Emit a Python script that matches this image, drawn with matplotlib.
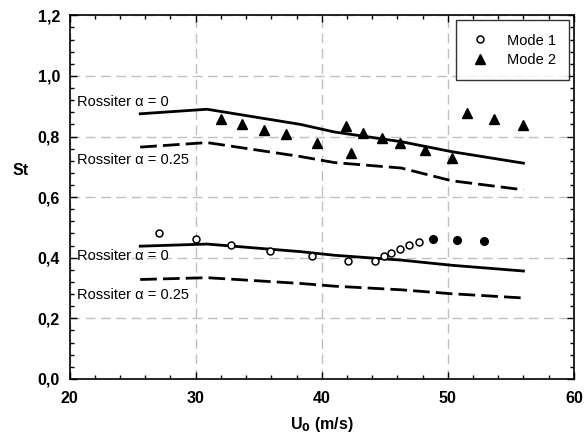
import matplotlib.pyplot as plt
from matplotlib.ticker import MultipleLocator, FuncFormatter

plt.rcParams['font.family'] = ['Liberation Sans', 'DejaVu Sans']

# ========== ДАННЫЕ ==========
# Mode 1 (open circles)
u_mode1 = [27.1, 30.0, 32.8, 35.9, 39.2, 42.1, 44.2, 44.9, 45.5, 46.2, 46.9, 47.7]
st_mode1 = [0.483, 0.462, 0.443, 0.422, 0.404, 0.389, 0.388, 0.404, 0.416, 0.429, 0.442, 0.453]

# Mode 1, filled circles
u_mode1_f = [48.8, 50.7, 52.9]
st_mode1_f = [0.461, 0.460, 0.455]

# Mode 2 (triangles)
u_mode2 = [32.0, 33.7, 35.4, 37.2, 39.6, 41.9, 42.3, 43.3, 44.8, 46.2, 48.2, 50.3, 51.5, 53.7, 56.0]
st_mode2 = [0.858, 0.841, 0.822, 0.808, 0.780, 0.835, 0.747, 0.813, 0.794, 0.780, 0.756, 0.728, 0.879, 0.857, 0.839]

# Rossiter curves
u_ross = [25.6, 30.9, 38.3, 41.0, 46.3, 50.3, 56.0]
st_m2_a0 = [0.875, 0.890, 0.840, 0.815, 0.783, 0.750, 0.712]
st_m2_a025 = [0.765, 0.780, 0.734, 0.714, 0.696, 0.654, 0.624]
st_m1_a0 = [0.438, 0.445, 0.420, 0.408, 0.392, 0.375, 0.356]
st_m1_a025 = [0.328, 0.334, 0.315, 0.306, 0.294, 0.281, 0.267]

# ========== ГРАФИК ==========
fig = plt.figure(figsize=(5.85, 4.38), dpi=100)
ax = fig.add_axes([0.119, 0.135, 0.862, 0.830])

ax.plot(u_ross, st_m2_a0, color='black', lw=2)
ax.plot(u_ross, st_m2_a025, color='black', lw=2, dashes=(6, 2.2))
ax.plot(u_ross, st_m1_a0, color='black', lw=2)
ax.plot(u_ross, st_m1_a025, color='black', lw=2, dashes=(6, 2.2))

ax.plot(u_mode1, st_mode1, 'o', ms=5, mfc='white', mec='black', mew=1.1, label='Mode 1')
ax.plot(u_mode2, st_mode2, '^', ms=6.5, color='black', label='Mode 2')
ax.plot(u_mode1_f, st_mode1_f, 'o', ms=5.5, color='black')

txt = dict(fontsize=10.5, ha='left', va='center')
ax.text(20.6, 0.915, 'Rossiter \u03b1 = 0', **txt)
ax.text(20.6, 0.723, 'Rossiter \u03b1 = 0.25', **txt)
ax.text(20.6, 0.404, 'Rossiter \u03b1 = 0', **txt)
ax.text(20.6, 0.277, 'Rossiter \u03b1 = 0.25', **txt)

ax.set_xlim(20, 60)
ax.set_ylim(0, 1.2)
ax.xaxis.set_major_locator(MultipleLocator(10))
ax.xaxis.set_minor_locator(MultipleLocator(2))
ax.yaxis.set_major_locator(MultipleLocator(0.2))
ax.yaxis.set_minor_locator(MultipleLocator(0.04))
ax.yaxis.set_major_formatter(FuncFormatter(lambda v, p: f'{v:.1f}'.replace('.', ',')))

ax.tick_params(which='both', direction='in', top=True, right=True, width=1)
ax.tick_params(which='major', length=5, labelsize=11.5)
ax.tick_params(axis='x', which='major', pad=9)
ax.tick_params(axis='y', which='major', pad=7)
ax.tick_params(which='minor', length=3)
for lab in ax.get_xticklabels() + ax.get_yticklabels():
    lab.set_fontweight('bold')
for s in ax.spines.values():
    s.set_linewidth(1.2)

ax.grid(True, which='major', color='#c0c0c0', linestyle=(0, (7, 4)), lw=1)

ax.set_xlabel(r'U$_\mathbf{0}$ (m/s)', fontsize=11.5, fontweight='bold', labelpad=6)
ax.set_ylabel('St', fontsize=11.5, fontweight='bold', rotation=0, va='center', ha='center')
ax.yaxis.set_label_coords(-0.097, 0.572)

leg = ax.legend(loc='upper right', fontsize=10.5, frameon=True, fancybox=False,
                edgecolor='black', borderpad=0.9, handletextpad=1.0, handlelength=1.6,
                labelspacing=0.35, borderaxespad=0.35)
leg.get_frame().set_linewidth(1)

fig.savefig('out.png', dpi=100)
